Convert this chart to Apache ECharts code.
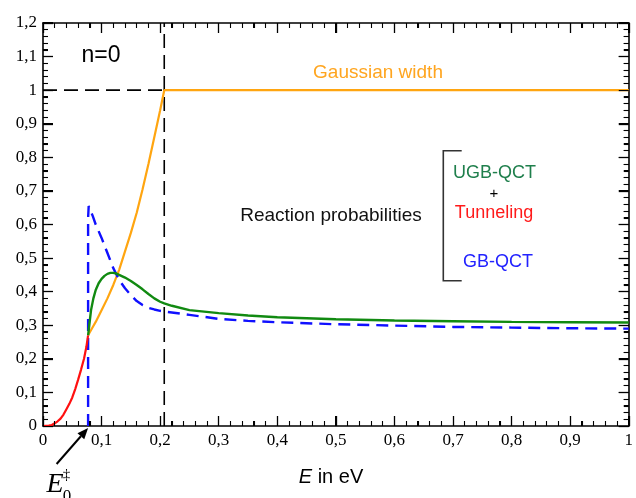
<!DOCTYPE html>
<html>
<head>
<meta charset="utf-8">
<script src="https://cdn.jsdelivr.net/npm/echarts@6/dist/echarts.min.js"></script>
<style>html,body{margin:0;padding:0}#c{width:636px;height:498px}</style>
</head>
<body>
<div id="c"></div>
<script>
// ---- data ----
const thresholdE = 0.077;      // E0‡
const widthEdgeE = 0.207;      // end of the Gaussian-width ramp
const xTicks = [0, 0.1, 0.2, 0.3, 0.4, 0.5, 0.6, 0.7, 0.8, 0.9, 1];
const yTicks = [0, 0.1, 0.2, 0.3, 0.4, 0.5, 0.6, 0.7, 0.8, 0.9, 1, 1.1, 1.2];

const tunnelE = [0, 0.01, 0.015, 0.02, 0.025, 0.03, 0.035, 0.04, 0.045, 0.05, 0.055, 0.06, 0.065, 0.07, 0.074, 0.077];
const tunnelP = [0, 0.001, 0.003, 0.008, 0.014, 0.022, 0.034, 0.05, 0.066, 0.085, 0.11, 0.138, 0.168, 0.2, 0.235, 0.27];

const widthE = [0.077, 0.085, 0.09, 0.1, 0.11, 0.12, 0.13, 0.14, 0.15, 0.16, 0.17, 0.18, 0.19, 0.2, 0.207, 1.0];
const widthV = [0.27, 0.295, 0.31, 0.345, 0.38, 0.42, 0.465, 0.52, 0.575, 0.635, 0.705, 0.78, 0.86, 0.94, 1.0, 1.0];

const ugbE = [0.077, 0.079, 0.082, 0.086, 0.09, 0.095, 0.1, 0.105, 0.11, 0.115, 0.12, 0.125, 0.13, 0.14, 0.15, 0.16, 0.17, 0.18, 0.19, 0.2, 0.207, 0.22, 0.25, 0.3, 0.35, 0.4, 0.5, 0.6, 0.7, 0.8, 0.9, 1.0];
const ugbP = [0.27, 0.30, 0.345, 0.38, 0.405, 0.425, 0.438, 0.447, 0.453, 0.456, 0.456, 0.454, 0.45, 0.442, 0.432, 0.42, 0.407, 0.393, 0.38, 0.37, 0.365, 0.358, 0.345, 0.336, 0.329, 0.324, 0.318, 0.314, 0.312, 0.31, 0.309, 0.308];

const gbE = [0.077, 0.077, 0.078, 0.085, 0.09, 0.1, 0.11, 0.12, 0.13, 0.14, 0.15, 0.16, 0.17, 0.18, 0.19, 0.2, 0.207, 0.25, 0.3, 0.35, 0.4, 0.5, 0.6, 0.7, 0.8, 0.9, 1.0];
const gbP = [0, 0.62, 0.655, 0.625, 0.6, 0.56, 0.515, 0.47, 0.435, 0.41, 0.39, 0.372, 0.36, 0.352, 0.347, 0.343, 0.341, 0.331, 0.319, 0.313, 0.309, 0.303, 0.299, 0.295, 0.293, 0.291, 0.29];

const guideHE = [0, widthEdgeE];
const guideHV = [1, 1];
const guideVE = [widthEdgeE, widthEdgeE];
const guideVV = [0, 1.2];

(function () {
  const zip = (a, b) => a.map((v, i) => [v, b[i]]);
  const fmt = v => String(Math.round(v * 10) / 10).replace('.', ',');
  const SERIF = 'Liberation Serif';
  const SANS = 'Liberation Sans';

  function axisCommon(showLabel) {
    return {
      type: 'value',
      axisLine: { show: true, onZero: false, lineStyle: { color: '#000', width: 1.6 } },
      axisTick: { show: true, inside: true, length: 10, lineStyle: { color: '#000', width: 1.3 } },
      minorTick: { show: true, splitNumber: 5, length: 5, lineStyle: { color: '#000', width: 1.1 } },
      splitLine: { show: false },
      minorSplitLine: { show: false },
      axisLabel: {
        show: showLabel, formatter: fmt, color: '#000',
        fontFamily: SERIF, fontSize: 17, margin: 6,
        showMinLabel: true, showMaxLabel: true
      }
    };
  }

  const xMin = xTicks[0], xMax = xTicks[xTicks.length - 1];
  const yMin = yTicks[0], yMax = yTicks[yTicks.length - 1];

  const chart = echarts.init(document.getElementById('c'));

  function mkLine(name, data, color, width, dash, z) {
    return {
      type: 'line', name: name, data: data, symbol: 'none', z: z,
      lineStyle: { color: color, width: width, type: dash || 'solid' }
    };
  }

  const seriesList = [
    mkLine('guideH', zip(guideHE, guideHV), '#000', 1.6, [14, 7], 1),
    mkLine('guideV', zip(guideVE, guideVV), '#000', 1.6, [14, 7], 1),
    mkLine('Gaussian width', zip(widthE, widthV), '#ffa510', 2.2, null, 2),
    mkLine('GB-QCT', zip(gbE, gbP), '#1010ff', 2.4, [12, 7], 3),
    mkLine('UGB-QCT', zip(ugbE, ugbP), '#118a11', 2.4, null, 4),
    mkLine('Tunneling', zip(tunnelE, tunnelP), '#ff1010', 2.2, null, 4)
  ];

  chart.setOption({
    animation: false,
    grid: { left: 43, right: 6, top: 23, bottom: 72 },
    xAxis: [
      Object.assign(axisCommon(true), { min: xMin, max: xMax, interval: 0.1, position: 'bottom' }),
      Object.assign(axisCommon(false), { min: xMin, max: xMax, interval: 0.1, position: 'top' })
    ],
    yAxis: [
      Object.assign(axisCommon(true), { min: yMin, max: yMax, interval: 0.1, position: 'left' }),
      Object.assign(axisCommon(false), { min: yMin, max: yMax, interval: 0.1, position: 'right' })
    ],
    series: seriesList
  });

  function txt(text, x, y, size, color, family) {
    return {
      type: 'text', x: x, y: y, z: 100,
      style: {
        text: text, fill: color, font: size + 'px "' + family + '"',
        textAlign: 'center', textVerticalAlign: 'middle',
        align: 'center', verticalAlign: 'middle'
      }
    };
  }

  // tick marks on all four frame sides, positioned through the axis scales
  const toPx = (x, y) => chart.convertToPixel({ gridIndex: 0 }, [x, y]);
  const crisp = v => Math.round(v - 0.5) + 0.5;
  const tickEls = [];
  function addTick(x1, y1, x2, y2) {
    tickEls.push({ type: 'line', z: 50, silent: true,
      shape: { x1: x1, y1: y1, x2: x2, y2: y2 }, style: { stroke: '#000', lineWidth: 1 } });
  }
  const pB = toPx(xMin, yMin), pT = toPx(xMax, yMax);
  const gL = pB[0], gB = pB[1], gR = pT[0], gT = pT[1];
  for (let i = 0; i < xTicks.length; i++) {
    for (let k = 0; k < 5; k++) {
      if (i === xTicks.length - 1 && k > 0) break;
      const v = xTicks[i] + k * 0.02;
      const pxv = crisp(toPx(v, yMin)[0]);
      const len = k === 0 ? 10 : 5;
      addTick(pxv, gB, pxv, gB - len);
      addTick(pxv, gT, pxv, gT + len);
    }
  }
  for (let i = 0; i < yTicks.length; i++) {
    for (let k = 0; k < 5; k++) {
      if (i === yTicks.length - 1 && k > 0) break;
      const v = yTicks[i] + k * 0.02;
      const pyv = crisp(toPx(xMin, v)[1]);
      const len = k === 0 ? 10 : 5;
      addTick(gL, pyv, gL + len, pyv);
      addTick(gR, pyv, gR - len, pyv);
    }
  }

  const tip = toPx(thresholdE, 0);
  const tipX = tip[0], tipY = tip[1] + 2;
  const tailX = tipX - 31.5, tailY = tipY + 36;
  const ang = Math.atan2(tipY - tailY, tipX - tailX);
  const hl = 11, hw = 4.5;
  const abx = tipX - hl * Math.cos(ang), aby = tipY - hl * Math.sin(ang);
  const apx = -Math.sin(ang), apy = Math.cos(ang);

  chart.setOption({
    graphic: tickEls.concat([
      txt('n=0', 101, 56, 23, '#000', SANS),
      txt('Gaussian width', 378, 73, 19, '#ffa51f', SANS),
      txt('Reaction probabilities', 331, 216, 19, '#111', SANS),
      txt('UGB-QCT', 494.5, 173, 18, '#1f7f4c', SANS),
      txt('+', 494, 194, 15, '#000', SANS),
      txt('Tunneling', 494, 213, 18, '#ff1a1a', SANS),
      txt('GB-QCT', 498, 262, 18, '#2222ff', SANS),
      { type: 'polyline', z: 100,
        shape: { points: [[461.7, 150.7], [443.3, 150.7], [443.3, 280.7], [461.7, 280.7]] },
        style: { stroke: '#333', lineWidth: 1.6, fill: null } },
      { type: 'text', x: 331, y: 477, z: 100,
        style: { text: '{i|E} in eV', align: 'center', verticalAlign: 'middle',
          textAlign: 'center', textVerticalAlign: 'middle', fill: '#000',
          font: '20px "Liberation Sans"',
          rich: { i: { fontStyle: 'italic', fontSize: 20, fontFamily: SANS, fill: '#000' } } } },
      { type: 'text', x: 55, y: 485, z: 100,
        style: { text: 'E', fill: '#000', font: 'italic 28px "Liberation Serif"',
          align: 'center', verticalAlign: 'middle', textAlign: 'center', textVerticalAlign: 'middle' } },
      { type: 'text', x: 66.5, y: 475, z: 100,
        style: { text: '‡', fill: '#000', font: '15px "Liberation Serif"',
          align: 'center', verticalAlign: 'middle', textAlign: 'center', textVerticalAlign: 'middle' } },
      { type: 'text', x: 67, y: 497, z: 100,
        style: { text: '0', fill: '#000', font: '17px "Liberation Serif"',
          align: 'center', verticalAlign: 'middle', textAlign: 'center', textVerticalAlign: 'middle' } },
      { type: 'line', z: 100,
        shape: { x1: tailX, y1: tailY, x2: abx, y2: aby },
        style: { stroke: '#000', lineWidth: 2 } },
      { type: 'polygon', z: 100,
        shape: { points: [[tipX, tipY], [abx + apx * hw, aby + apy * hw], [abx - apx * hw, aby - apy * hw]] },
        style: { fill: '#000' } }
    ])
  });
})();
</script>
</body>
</html>
